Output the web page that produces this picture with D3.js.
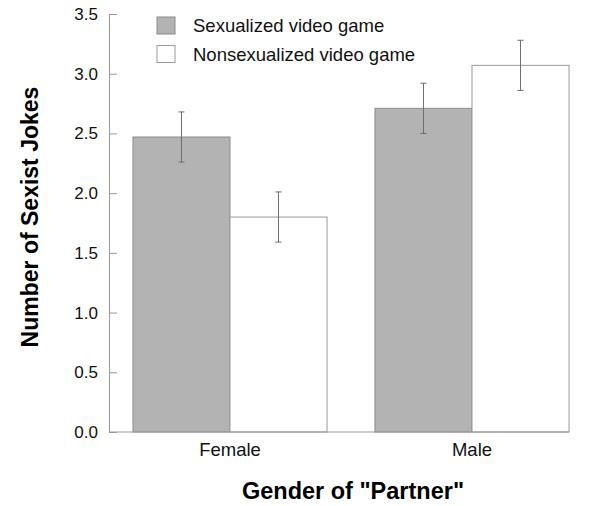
<!DOCTYPE html>
<html>
<head>
<meta charset="utf-8">
<script src="https://cdn.jsdelivr.net/npm/d3@7"></script>
<style>
  body { margin: 0; background: #fff; }
  svg { font-family: "Liberation Sans", Arial, sans-serif; }
</style>
</head>
<body>
<svg id="chart" width="589" height="506"></svg>
<script>
// data
var groups = ["Female", "Male"];
var conditions = ["Sexualized video game", "Nonsexualized video game"];
var means = {
    "Female": [2.47, 1.80],
    "Male": [2.71, 3.07]
};
var errors = {
    "Female": [0.21, 0.21],
    "Male": [0.21, 0.21]
};
var yTicks = [0, 0.5, 1.0, 1.5, 2.0, 2.5, 3.0, 3.5];

var dimensions = {
    width: 589,
    height: 506,
    margin: { top: 14, bottom: 74, left: 109, right: 20 }
}

var svg = d3.select("#chart")

var yScale = d3.scaleLinear()
    .domain([0, 3.5])
    .range([dimensions.height - dimensions.margin.bottom, dimensions.margin.top])

var x0 = d3.scaleBand()
    .domain(groups)
    .range([dimensions.margin.left, 593])
    .paddingInner(0.198)
    .paddingOuter(0.099)

var x1 = d3.scaleBand()
    .domain([0, 1])
    .range([0, x0.bandwidth()])

var fills = ["#b3b3b3", "#ffffff"]
var strokes = ["#8c8c8c", "#9a9a9a"]

// bars
var rows = []
groups.forEach(function(g) {
    means[g].forEach(function(v, i) {
        rows.push({ group: g, i: i, value: v, err: errors[g][i] })
    })
})

svg.append("g")
    .selectAll("rect")
    .data(rows)
    .enter()
    .append("rect")
    .attr("x", function(d) { return x0(d.group) + x1(d.i) })
    .attr("y", function(d) { return yScale(d.value) })
    .attr("width", x1.bandwidth())
    .attr("height", function(d) { return yScale(0) - yScale(d.value) })
    .attr("fill", function(d) { return fills[d.i] })
    .attr("stroke", function(d) { return strokes[d.i] })
    .attr("stroke-width", 1)

// error bars
var eb = svg.append("g")
    .attr("stroke", "#6e6e6e")
    .attr("stroke-width", 1)
    .selectAll("g")
    .data(rows)
    .enter()
    .append("g")
    .attr("transform", function(d) {
        return "translate(" + (x0(d.group) + x1(d.i) + x1.bandwidth() / 2) + ",0)"
    })

eb.append("line")
    .attr("x1", 0).attr("x2", 0)
    .attr("y1", function(d) { return yScale(d.value + d.err) })
    .attr("y2", function(d) { return yScale(d.value - d.err) })
eb.append("line")
    .attr("x1", -3).attr("x2", 3)
    .attr("y1", function(d) { return yScale(d.value + d.err) })
    .attr("y2", function(d) { return yScale(d.value + d.err) })
eb.append("line")
    .attr("x1", -3).attr("x2", 3)
    .attr("y1", function(d) { return yScale(d.value - d.err) })
    .attr("y2", function(d) { return yScale(d.value - d.err) })

// y axis, ticks pointing inward
var yAxis = svg.append("g")
    .attr("transform", "translate(" + dimensions.margin.left + ",0)")
    .call(d3.axisRight(yScale).tickValues(yTicks).tickFormat(d3.format(".1f")).tickSize(8).tickSizeOuter(0))
yAxis.select(".domain").attr("stroke", "#999")
yAxis.selectAll(".tick line").attr("stroke", "#999")
yAxis.selectAll(".tick text")
    .attr("x", -11)
    .attr("text-anchor", "end")
    .attr("font-size", 17)
    .attr("fill", "#111")

// x axis line
var xEnd = x0(groups[groups.length - 1]) + x0.bandwidth()
svg.append("line")
    .attr("x1", dimensions.margin.left)
    .attr("x2", xEnd)
    .attr("y1", yScale(0))
    .attr("y2", yScale(0))
    .attr("stroke", "#999")

svg.append("g")
    .selectAll("text")
    .data(groups)
    .enter()
    .append("text")
    .attr("x", function(d) { return x0(d) + x0.bandwidth() / 2 })
    .attr("y", yScale(0) + 24)
    .attr("text-anchor", "middle")
    .attr("font-size", 18.5)
    .attr("fill", "#111")
    .text(function(d) { return d })

// axis titles
svg.append("text")
    .attr("x", 353)
    .attr("y", 499)
    .attr("text-anchor", "middle")
    .attr("font-size", 23.5)
    .attr("font-weight", "bold")
    .text('Gender of "Partner"')

svg.append("text")
    .attr("transform", "translate(38,217) rotate(-90)")
    .attr("text-anchor", "middle")
    .attr("font-size", 23)
    .attr("font-weight", "bold")
    .text("Number of Sexist Jokes")

// legend
var legend = svg.append("g")
    .selectAll("g")
    .data(conditions)
    .enter()
    .append("g")
    .attr("transform", function(d, i) { return "translate(157," + (17 + i * 28.5) + ")" })

legend.append("rect")
    .attr("width", 18)
    .attr("height", 17)
    .attr("fill", function(d, i) { return fills[i] })
    .attr("stroke", function(d, i) { return strokes[i] })

legend.append("text")
    .attr("x", 36)
    .attr("y", 15)
    .attr("font-size", 18.5)
    .attr("fill", "#111")
    .text(function(d) { return d })
</script>
</body>
</html>
